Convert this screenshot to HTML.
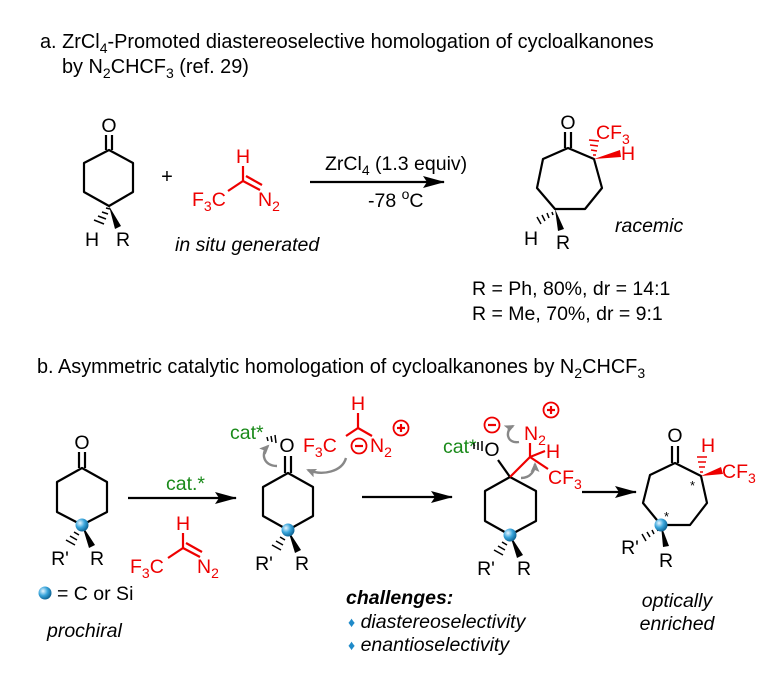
<!DOCTYPE html>
<html><head><meta charset="utf-8"><style>
html,body{margin:0;padding:0;background:#fff}
svg{display:block;font-family:"Liberation Sans",Arial,sans-serif}
</style></head><body>
<svg width="776" height="676" viewBox="0 0 776 676" xmlns="http://www.w3.org/2000/svg" font-size="19.5">
<defs>
<radialGradient id="ball" cx="0.35" cy="0.35" r="0.7">
<stop offset="0" stop-color="#e8f6ff"/><stop offset="0.5" stop-color="#3aa6dc"/><stop offset="1" stop-color="#0b5f8f"/>
</radialGradient>
<marker id="ah" markerWidth="22" markerHeight="12" refX="21" refY="6" orient="auto" markerUnits="userSpaceOnUse">
<path d="M0,0 L22,6 L0,12 L4,6 Z" fill="#000"/></marker>
<marker id="gh" markerWidth="10" markerHeight="9" refX="8" refY="4.5" orient="auto" markerUnits="userSpaceOnUse">
<path d="M0,0 L10,4.5 L0,9 L2,4.5 Z" fill="#888"/></marker>
</defs>
<text x="40" y="48" font-size="19.9">a. ZrCl<tspan font-size="14" dy="5">4</tspan><tspan dy="-5">-Promoted diastereoselective homologation of cycloalkanones</tspan></text>
<text x="62" y="73" font-size="19.9">by N<tspan font-size="14" dy="5">2</tspan><tspan dy="-5">CHCF</tspan><tspan font-size="14" dy="5">3</tspan><tspan dy="-5"> (ref. 29)</tspan></text>
<g stroke="#000" stroke-width="2.2" fill="none" stroke-linejoin="round">
<path d="M109,150 L133,163 L133,192 L109,206 L84,192 L84,163 Z"/>
<line x1="106" y1="135" x2="106" y2="150"/><line x1="112" y1="135" x2="112" y2="150"/>
<path d="M568,148 L594,159 L602,188 L585,209 L555,209 L537,188 L543,159 Z"/>
<line x1="565" y1="132" x2="565" y2="148"/><line x1="571" y1="132" x2="571" y2="148"/>
<line x1="310" y1="182" x2="444" y2="182" marker-end="url(#ah)"/>
</g>
<text x="109" y="132" text-anchor="middle">O</text>
<text x="568" y="129" text-anchor="middle">O</text>
<path d="M109,206 L121,226 L115,229 Z" fill="#000"/>
<g stroke="#000" stroke-width="1.5"><line x1="106" y1="208" x2="110" y2="209"/><line x1="102" y1="212" x2="108" y2="214"/><line x1="98" y1="216" x2="106" y2="219"/><line x1="94" y1="220" x2="104" y2="224"/></g>
<text x="92" y="246" text-anchor="middle">H</text><text x="123" y="246" text-anchor="middle">R</text>
<text x="167" y="183" font-size="20" text-anchor="middle">+</text>
<g stroke="#e00" stroke-width="2.2" fill="none"><line x1="243" y1="166" x2="243" y2="181"/><line x1="243" y1="181" x2="228" y2="191"/><line x1="243" y1="181" x2="260" y2="190"/><line x1="246" y1="176" x2="262" y2="185"/></g>
<g fill="#e00"><text x="243" y="163" text-anchor="middle">H</text><text x="192" y="206">F<tspan font-size="14" dy="5">3</tspan><tspan dy="-5">C</tspan></text><text x="258" y="206">N<tspan font-size="14" dy="5">2</tspan></text></g>
<text x="325" y="170">ZrCl<tspan font-size="14" dy="5">4</tspan><tspan dy="-5"> (1.3 equiv)</tspan></text>
<text x="368" y="207">-78 <tspan font-size="14" dy="-8">o</tspan><tspan dy="8">C</tspan></text>
<text x="175" y="251" font-style="italic">in situ generated</text>
<path d="M594,159 L620,150 L621,157 Z" fill="#e00"/>
<g stroke="#e00" stroke-width="1.5"><line x1="593" y1="155" x2="596" y2="155"/><line x1="591" y1="150" x2="597" y2="151"/><line x1="590" y1="145" x2="598" y2="146"/><line x1="589" y1="140" x2="599" y2="141"/></g>
<g fill="#e00"><text x="596" y="139">CF<tspan font-size="14" dy="5">3</tspan></text><text x="621" y="160">H</text></g>
<path d="M555,209 L558,231 L564,229 Z" fill="#000"/>
<g stroke="#000" stroke-width="1.5"><line x1="552" y1="212" x2="553" y2="215"/><line x1="547" y1="213" x2="549" y2="218"/><line x1="542" y1="215" x2="545" y2="221"/><line x1="537" y1="217" x2="541" y2="224"/></g>
<text x="531" y="245" text-anchor="middle">H</text><text x="563" y="249" text-anchor="middle">R</text>
<text x="615" y="232" font-style="italic">racemic</text>
<text x="472" y="295">R = Ph, 80%, dr = 14:1</text>
<text x="472" y="320">R = Me, 70%, dr = 9:1</text>
<text x="37" y="373" font-size="19.9">b. Asymmetric catalytic homologation of cycloalkanones by N<tspan font-size="14" dy="5">2</tspan><tspan dy="-5">CHCF</tspan><tspan font-size="14" dy="5">3</tspan></text>
<g stroke="#000" stroke-width="2.2" fill="none" stroke-linejoin="round">
<path d="M82,468 L107,482 L107,512 L82,525 L57,512 L57,482 Z"/>
<line x1="79" y1="452" x2="79" y2="468"/><line x1="85" y1="452" x2="85" y2="468"/>
<line x1="128" y1="498" x2="236" y2="498" marker-end="url(#ah)"/>
<path d="M288,473 L313,487 L313,516 L288,530 L263,516 L263,487 Z"/>
<line x1="285" y1="456" x2="285" y2="473"/><line x1="291" y1="456" x2="291" y2="473"/>
<line x1="362" y1="497" x2="452" y2="497" marker-end="url(#ah)"/>
<path d="M510,477 L536,491 L536,521 L510,535 L485,521 L485,491 Z"/>
<line x1="498" y1="460" x2="510" y2="477"/>
<line x1="582" y1="492" x2="636" y2="492" marker-end="url(#ah)"/>
<path d="M675,463 L701,476 L707,503 L690,525 L661,525 L643,503 L650,475 Z"/>
<line x1="672" y1="446" x2="672" y2="463"/><line x1="678" y1="446" x2="678" y2="463"/>
</g>
<text x="82" y="449" text-anchor="middle">O</text>
<path d="M82,525 L95,545 L89,548 Z" fill="#000"/>
<g stroke="#000" stroke-width="1.5"><line x1="78" y1="528" x2="81" y2="530"/><line x1="74" y1="532" x2="79" y2="535"/><line x1="70" y1="536" x2="77" y2="540"/><line x1="66" y1="540" x2="75" y2="545"/></g>
<circle cx="82" cy="525" r="6.5" fill="url(#ball)"/>
<text x="60" y="565" text-anchor="middle">R'</text><text x="97" y="565" text-anchor="middle">R</text>
<circle cx="45" cy="593" r="6.5" fill="url(#ball)"/>
<text x="57" y="600">= C or Si</text>
<text x="47" y="637" font-style="italic">prochiral</text>
<text x="166" y="490" fill="#1a8a1a">cat.*</text>
<g stroke="#e00" stroke-width="2.2" fill="none"><line x1="183" y1="533" x2="183" y2="548"/><line x1="183" y1="548" x2="168" y2="558"/><line x1="183" y1="548" x2="200" y2="557"/><line x1="186" y1="543" x2="202" y2="552"/></g>
<g fill="#e00"><text x="183" y="530" text-anchor="middle">H</text><text x="130" y="573">F<tspan font-size="14" dy="5">3</tspan><tspan dy="-5">C</tspan></text><text x="197" y="573">N<tspan font-size="14" dy="5">2</tspan></text></g>
<text x="287" y="452" text-anchor="middle">O</text>
<text x="230" y="439" fill="#1a8a1a">cat*</text>
<g stroke="#000" stroke-width="1.5"><line x1="267" y1="437" x2="268" y2="441"/><line x1="271" y1="436" x2="272" y2="442"/><line x1="275" y1="435" x2="276" y2="443"/></g>
<path d="M288,530 L301,550 L295,553 Z" fill="#000"/>
<g stroke="#000" stroke-width="1.5"><line x1="284" y1="533" x2="287" y2="535"/><line x1="280" y1="537" x2="285" y2="540"/><line x1="276" y1="541" x2="283" y2="545"/><line x1="272" y1="545" x2="281" y2="550"/></g>
<circle cx="288" cy="530" r="6.5" fill="url(#ball)"/>
<text x="264" y="570" text-anchor="middle">R'</text><text x="302" y="570" text-anchor="middle">R</text>
<g stroke="#e00" stroke-width="2.2" fill="none"><line x1="358" y1="413" x2="358" y2="428"/><line x1="358" y1="428" x2="346" y2="436"/><line x1="358" y1="428" x2="372" y2="436"/>
<circle cx="359" cy="446" r="7.5" stroke-width="1.8"/><line x1="355" y1="446" x2="363" y2="446"/>
<circle cx="401" cy="428" r="7.5" stroke-width="1.8"/><line x1="397" y1="428" x2="405" y2="428"/><line x1="401" y1="424" x2="401" y2="432"/></g>
<g fill="#e00"><text x="358" y="410" text-anchor="middle">H</text><text x="303" y="452">F<tspan font-size="14" dy="5">3</tspan><tspan dy="-5">C</tspan></text><text x="370" y="452">N<tspan font-size="14" dy="5">2</tspan></text></g>
<g stroke="#888" stroke-width="2.4" fill="none">
<path d="M346,458 C342,472 322,476 308,470" marker-end="url(#gh)"/>
<path d="M277,466 C264,466 260,454 268,446" marker-end="url(#gh)"/>
</g>
<text x="492" y="456" text-anchor="middle">O</text>
<text x="443" y="453" fill="#1a8a1a">cat*</text>
<g stroke="#000" stroke-width="1.5"><line x1="474" y1="443" x2="474" y2="449"/><line x1="478" y1="442" x2="478" y2="450"/><line x1="482" y1="441" x2="482" y2="451"/></g>
<g stroke="#e00" stroke-width="2.2" fill="none"><line x1="510" y1="477" x2="530" y2="457"/><line x1="530" y1="457" x2="530" y2="443"/><line x1="530" y1="457" x2="545" y2="451"/><line x1="530" y1="457" x2="548" y2="469"/>
<circle cx="492" cy="425" r="7.5" stroke-width="1.8"/><line x1="488" y1="425" x2="496" y2="425"/>
<circle cx="551" cy="410" r="7.5" stroke-width="1.8"/><line x1="547" y1="410" x2="555" y2="410"/><line x1="551" y1="406" x2="551" y2="414"/></g>
<g fill="#e00"><text x="524" y="440">N<tspan font-size="14" dy="5">2</tspan></text><text x="546" y="458">H</text><text x="548" y="484">CF<tspan font-size="14" dy="5">3</tspan></text></g>
<g stroke="#888" stroke-width="2.4" fill="none">
<path d="M519,442 C506,444 505,430 513,426" marker-end="url(#gh)"/>
<path d="M521,478 C531,478 535,470 535,464" marker-end="url(#gh)"/>
</g>
<path d="M510,535 L523,555 L517,558 Z" fill="#000"/>
<g stroke="#000" stroke-width="1.5"><line x1="506" y1="538" x2="509" y2="540"/><line x1="502" y1="542" x2="507" y2="545"/><line x1="498" y1="546" x2="505" y2="550"/><line x1="494" y1="550" x2="503" y2="555"/></g>
<circle cx="510" cy="535" r="6.5" fill="url(#ball)"/>
<text x="486" y="575" text-anchor="middle">R'</text><text x="524" y="575" text-anchor="middle">R</text>
<text x="675" y="442" text-anchor="middle">O</text>
<path d="M701,476 L721,467 L723,474 Z" fill="#e00"/>
<g stroke="#e00" stroke-width="1.5"><line x1="700" y1="472" x2="703" y2="472"/><line x1="699" y1="467" x2="705" y2="467"/><line x1="698" y1="462" x2="706" y2="462"/><line x1="697" y1="457" x2="707" y2="457"/></g>
<g fill="#e00"><text x="708" y="452" text-anchor="middle">H</text><text x="722" y="478">CF<tspan font-size="14" dy="5">3</tspan></text></g>
<text x="690" y="490" font-size="13">*</text><text x="664" y="521" font-size="13">*</text>
<path d="M661,525 L663,547 L669,546 Z" fill="#000"/>
<g stroke="#000" stroke-width="1.5"><line x1="657" y1="528" x2="658" y2="531"/><line x1="652" y1="530" x2="654" y2="534"/><line x1="647" y1="532" x2="650" y2="537"/><line x1="642" y1="534" x2="646" y2="541"/></g>
<circle cx="661" cy="525" r="6.5" fill="url(#ball)"/>
<text x="630" y="554" text-anchor="middle">R'</text><text x="666" y="567" text-anchor="middle">R</text>
<text x="677" y="607" font-style="italic" text-anchor="middle">optically</text>
<text x="677" y="630" font-style="italic" text-anchor="middle">enriched</text>
<text x="346" y="604" font-style="italic" font-weight="bold">challenges:</text>
<text x="348" y="628" font-style="italic"><tspan fill="#1f8ac9" font-style="normal" font-size="14" dy="-1">♦</tspan><tspan dy="1"> diastereoselectivity</tspan></text>
<text x="348" y="651" font-style="italic"><tspan fill="#1f8ac9" font-style="normal" font-size="14" dy="-1">♦</tspan><tspan dy="1"> enantioselectivity</tspan></text>
</svg>
</body></html>
